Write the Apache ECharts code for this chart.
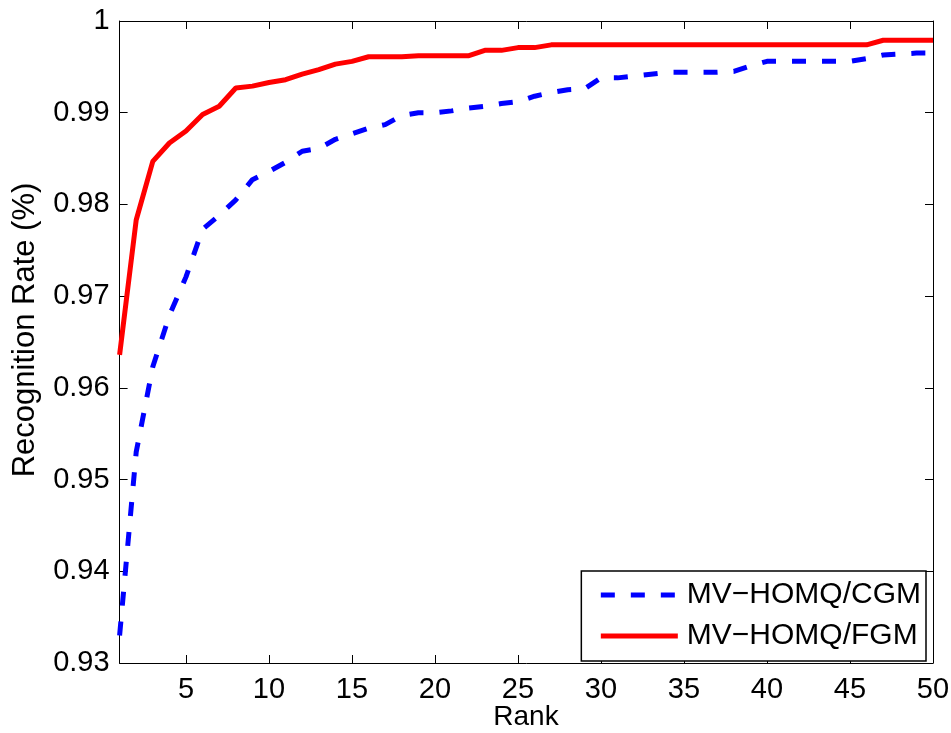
<!DOCTYPE html>
<html>
<head>
<meta charset="utf-8">
<script src="https://cdn.jsdelivr.net/npm/echarts@6/dist/echarts.min.js"></script>
<style>
html,body{margin:0;padding:0;background:#fff;}
#chart{width:951px;height:733px;}
</style>
</head>
<body>
<div id="chart"></div>
<script>
var ranks = [1,2,3,4,5,6,7,8,9,10,11,12,13,14,15,16,17,18,19,20,21,22,23,24,25,26,27,28,29,30,31,32,33,34,35,36,37,38,39,40,41,42,43,44,45,46,47,48,49,50];
var cgm = [0.9330,0.9530,0.9623,0.9679,0.9721,0.9773,0.9788,0.9805,0.9827,0.9836,
           0.9846,0.9858,0.9861,0.9871,0.9877,0.9883,0.9887,0.9897,0.9900,0.9900,
           0.9902,0.9905,0.9907,0.9910,0.9912,0.9918,0.9922,0.9925,0.9926,0.9938,
           0.9938,0.9940,0.9942,0.9944,0.9944,0.9944,0.9944,0.9945,0.9951,0.9956,
           0.9956,0.9956,0.9956,0.9956,0.9956,0.9959,0.9963,0.9964,0.9965,0.9965];
var fgm = [0.9636,0.9783,0.9847,0.9867,0.9880,0.9898,0.9907,0.9927,0.9929,0.9933,
           0.9936,0.9942,0.9947,0.9953,0.9956,0.9961,0.9961,0.9961,0.9962,0.9962,
           0.9962,0.9962,0.9968,0.9968,0.9971,0.9971,0.9974,0.9974,0.9974,0.9974,
           0.9974,0.9974,0.9974,0.9974,0.9974,0.9974,0.9974,0.9974,0.9974,0.9974,
           0.9974,0.9974,0.9974,0.9974,0.9974,0.9974,0.9979,0.9979,0.9979,0.9979];
var xTicks = [5,10,15,20,25,30,35,40,45,50];
var seriesNames = ['MV\u2212HOMQ/CGM','MV\u2212HOMQ/FGM'];
var xTitle = 'Rank';
var yTitle = 'Recognition Rate (%)';

var FONT = '"Liberation Sans", Arial, Helvetica, sans-serif';
function pairs(ys){ return ranks.map(function(r,i){ return [r, ys[i]]; }); }

var chart = echarts.init(document.getElementById('chart'), null, {renderer:'canvas'});
var axisLineStyle = {lineStyle:{color:'#000', width:1}};
var tickStyle = {inside:true, length:8, lineStyle:{color:'#000', width:1}};
chart.setOption({
  animation:false,
  backgroundColor:'#fff',
  textStyle:{fontFamily:FONT},
  grid:{left:119.6, right:18, top:21, bottom:70, containLabel:false, outerBoundsMode:'none'},
  xAxis:[{
    type:'value', min:1, max:50, position:'bottom',
    axisLine:axisLineStyle,
    axisTick:Object.assign({customValues:xTicks}, tickStyle),
    axisLabel:{customValues:xTicks, color:'#000', fontSize:29, fontFamily:FONT, margin:12},
    splitLine:{show:false}
  },{
    type:'value', min:1, max:50, position:'top',
    axisLine:axisLineStyle,
    axisTick:Object.assign({customValues:xTicks}, tickStyle),
    axisLabel:{show:false},
    splitLine:{show:false}
  }],
  yAxis:[{
    type:'value', min:0.93, max:1, interval:0.01, position:'left',
    axisLine:axisLineStyle,
    axisTick:tickStyle,
    axisLabel:{color:'#000', fontSize:29, fontFamily:FONT, margin:10,
      formatter:function(v){ return String(+v.toFixed(2)); }},
    splitLine:{show:false}
  },{
    type:'value', min:0.93, max:1, interval:0.01, position:'right',
    axisLine:axisLineStyle,
    axisTick:tickStyle,
    axisLabel:{show:false},
    splitLine:{show:false}
  }],
  graphic:[{
    type:'text', x:526, y:717, silent:true,
    style:{text:xTitle, fill:'#000', font:'28px ' + FONT, textAlign:'center', textVerticalAlign:'middle'}
  },{
    type:'text', x:25, y:330, rotation:Math.PI/2, silent:true,
    style:{text:yTitle, fill:'#000', font:'31px ' + FONT, textAlign:'center', textVerticalAlign:'middle'}
  }],
  legend:{
    orient:'vertical', right:25, top:571,
    backgroundColor:'#fff', borderColor:'#000', borderWidth:1.5, borderRadius:0,
    padding:[9,5,10,17], itemGap:11, itemWidth:77, itemHeight:28,
    itemStyle:{opacity:0},
    lineStyle:{width:5},
    textStyle:{color:'#000', fontSize:30, fontFamily:FONT, padding:[0,0,0,4]},
    data:seriesNames
  },
  series:[{
    name:seriesNames[0], type:'line', data:pairs(cgm), symbol:'none',
    lineStyle:{color:'#0000ff', width:5, type:[14,16], cap:'butt'},
    itemStyle:{color:'#0000ff'}, z:2
  },{
    name:seriesNames[1], type:'line', data:pairs(fgm), symbol:'none',
    lineStyle:{color:'#ff0000', width:5},
    itemStyle:{color:'#ff0000'}, z:3
  }]
});
</script>
</body>
</html>
